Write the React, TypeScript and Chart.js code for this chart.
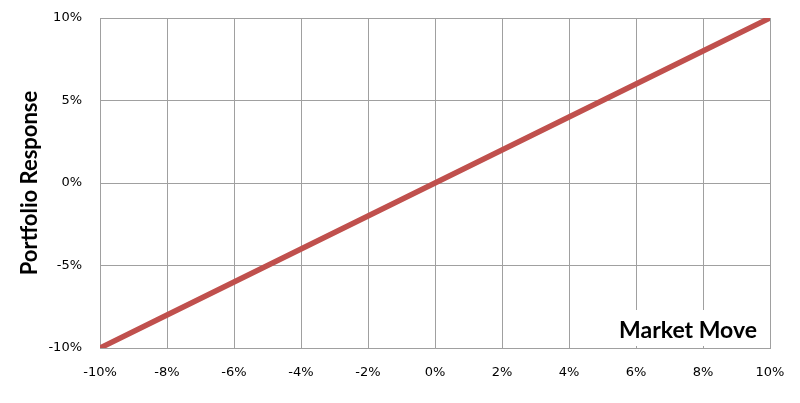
import React, { useEffect, useRef } from "react";
import { Chart, registerables } from "chart.js";

Chart.register(...registerables);

const marketMove = [-10, -8, -6, -4, -2, 0, 2, 4, 6, 8, 10];
const portfolioResponse = [-10, -8, -6, -4, -2, 0, 2, 4, 6, 8, 10];
const xAxisLabel = "Market Move";
const yAxisLabel = "Portfolio Response";

const labelPlugin = {
  id: "marketMoveLabel",
  beforeDatasetsDraw(chart: any) {
    const { ctx, chartArea } = chart;
    ctx.save();
    ctx.font = "bold 23px Lato";
    const w = ctx.measureText(xAxisLabel).width;
    const right = chartArea.right - 13;
    const baseline = chartArea.bottom - 10;
    ctx.fillStyle = "#ffffff";
    ctx.fillRect(right - w - 6, baseline - 28, w + 12, 36);
    ctx.fillStyle = "#000000";
    ctx.textAlign = "right";
    ctx.textBaseline = "alphabetic";
    ctx.fillText(xAxisLabel, right, baseline);
    ctx.restore();
  },
};

export default function App() {
  const ref = useRef<HTMLCanvasElement>(null);
  useEffect(() => {
    document.body.style.margin = "0";
    const chart = new Chart(ref.current!, {
      type: "scatter",
      data: {
        datasets: [
          {
            data: marketMove.map((x, i) => ({ x, y: portfolioResponse[i] })),
            showLine: true,
            borderColor: "#c0504d",
            borderWidth: 5.5,
            pointRadius: 0,
            borderCapStyle: "butt",
          },
        ],
      },
      options: {
        responsive: false,
        animation: false,
        layout: { padding: { top: 18, right: 30, bottom: 0, left: 0 } },
        plugins: { legend: { display: false }, tooltip: { enabled: false } },
        scales: {
          x: {
            type: "linear",
            min: -10,
            max: 10,
            ticks: {
              stepSize: 2,
              padding: 17,
              color: "#000",
              font: { family: "DejaVu Sans", size: 13 },
              callback: (v: any) => v + "%",
            },
            grid: { color: "#a0a0a0", drawTicks: false, lineWidth: 1 },
            border: { color: "#a0a0a0" },
            afterFit: (s: any) => {
              s.height = 55;
              s.paddingLeft = 0;
              s.paddingRight = 0;
            },
          },
          y: {
            type: "linear",
            min: -10,
            max: 10,
            ticks: {
              stepSize: 5,
              padding: 18,
              color: "#000",
              font: { family: "DejaVu Sans", size: 13 },
              callback: (v: any) => v + "%",
            },
            grid: { color: "#a0a0a0", drawTicks: false, lineWidth: 1 },
            border: { color: "#a0a0a0" },
            title: {
              display: true,
              text: yAxisLabel,
              color: "#000",
              font: { family: "Lato", size: 22, weight: "bold" },
              padding: { top: 17, bottom: 0 },
            },
            afterFit: (s: any) => {
              s.width = 100;
              s.paddingTop = 0;
              s.paddingBottom = 0;
            },
          },
        },
      },
      plugins: [labelPlugin],
    });
    return () => chart.destroy();
  }, []);
  return <canvas ref={ref} width={800} height={403} style={{ display: "block" }} />;
}
